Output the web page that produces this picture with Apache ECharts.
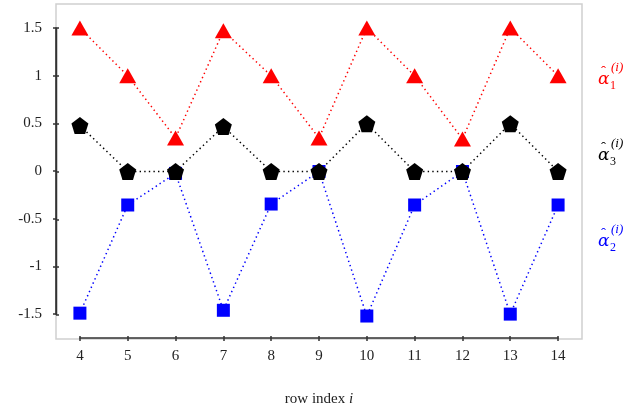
<!DOCTYPE html>
<html>
<head>
<meta charset="utf-8">
<script src="https://cdn.jsdelivr.net/npm/echarts@6/dist/echarts.min.js"></script>
<style>
  html, body { margin: 0; padding: 0; background: #fff; }
  #chart { width: 631px; height: 412px; }
</style>
</head>
<body>
<div id="chart"></div>
<script>
// row index i
const rows = [4, 5, 6, 7, 8, 9, 10, 11, 12, 13, 14];
// estimated alpha values
const alpha1 = [1.5, 1.0, 0.35, 1.47, 1.0, 0.35, 1.5, 1.0, 0.34, 1.5, 1.0];
const alpha2 = [-1.48, -0.35, -0.02, -1.45, -0.34, 0, -1.51, -0.35, 0, -1.49, -0.35];
const alpha3 = [0.48, 0, 0, 0.47, 0, 0, 0.5, 0, 0, 0.5, 0];

const serif = '"Liberation Serif", "DejaVu Serif", serif';
const pentagon = 'path://M50,0 L97.55,34.55 L79.39,90.45 L20.61,90.45 L2.45,34.55 Z';

const chart = echarts.init(document.getElementById('chart'));

const pts = (ys) => rows.map((x, k) => [x, ys[k]]);

const mkSeries = (name, ys, color, symbol, size) => ({
    name: name,
    type: 'line',
    xAxisIndex: 0,
    yAxisIndex: 0,
    data: pts(ys),
    symbol: symbol,
    symbolSize: size,
    showAllSymbol: true,
    itemStyle: { color: color, opacity: 1 },
    lineStyle: { color: color, width: 1.5, type: [1.4, 3.2] },
    emphasis: { disabled: true },
    animation: false
});

// range-frame axes (dark): grid 1 has outer ticks + labels, grid 2 inner ticks
const xFrame = (grid, inside, labels) => ({
    type: 'value', gridIndex: grid, position: 'bottom', min: 4, max: 14, interval: 1, offset: 24, z: 10,
    axisLine: { show: labels, onZero: false, lineStyle: { color: '#333', width: 1.5 } },
    axisTick: { show: true, inside: inside, length: 3, lineStyle: { color: '#333', width: 1.5 } },
    axisLabel: { show: labels, margin: 11, color: '#222', fontFamily: serif, fontSize: 15 },
    splitLine: { show: false },
    name: labels ? '{n|row index }{i|i}' : '',
    nameLocation: 'middle',
    nameGap: 54,
    nameTextStyle: {
        rich: {
            n: { fontFamily: serif, fontSize: 15, color: '#222' },
            i: { fontFamily: serif, fontSize: 15, fontStyle: 'italic', color: '#222' }
        }
    }
});
const yFrame = (grid, inside, labels) => ({
    type: 'value', gridIndex: grid, position: 'left', min: -1.5, max: 1.5, interval: 0.5, offset: 24, z: 10,
    axisLine: { show: labels, onZero: false, lineStyle: { color: '#333', width: 1.5 } },
    axisTick: { show: true, inside: inside, length: 3, lineStyle: { color: '#333', width: 1.5 } },
    axisLabel: {
        show: labels, margin: 14, color: '#222', fontFamily: serif, fontSize: 15,
        formatter: (v) => String(v)
    },
    splitLine: { show: false }
});

// right hand labels: alpha hat with sub/superscript
const mathLabel = (id, sub, color, x, y) => ({
    type: 'group',
    id: id,
    x: x, y: y,
    z: 10,
    children: [
        { type: 'text', x: 0, y: 0, style: { text: 'α', fill: color, font: 'italic 17px "DejaVu Serif"', verticalAlign: 'middle' } },
        { type: 'text', x: 3, y: -8, style: { text: '\u02C6', fill: color, font: '15px ' + serif, verticalAlign: 'middle' } },
        { type: 'text', x: 12, y: 6, style: { text: sub, fill: color, font: '12px ' + serif, verticalAlign: 'middle' } },
        { type: 'text', x: 13, y: -12, style: { text: '(i)', fill: color, font: 'italic 13px ' + serif, verticalAlign: 'middle' } }
    ]
});

const option = {
    backgroundColor: '#fff',
    animation: false,
    grid: [
        { left: 56, right: 49, top: 4, bottom: 73 },
        { left: 80, right: 73, top: 28, bottom: 97 },
        { left: 80, right: 73, top: 28, bottom: 97 }
    ],
    xAxis: [
        { type: 'value', gridIndex: 0, min: 3.5, max: 14.5, show: false },
        xFrame(1, false, true),
        xFrame(2, true, false)
    ],
    yAxis: [
        { type: 'value', gridIndex: 0, min: -1.75, max: 1.75, show: false },
        yFrame(1, false, true),
        yFrame(2, true, false)
    ],
    series: [
        mkSeries('alpha1', alpha1, '#ff0000', 'triangle', [17, 15]),
        mkSeries('alpha2', alpha2, '#0000ff', 'rect', 13),
        mkSeries('alpha3', alpha3, '#000000', pentagon, 17)
    ],
    graphic: [
        {
            type: 'rect', id: 'box', z: -10, silent: true,
            shape: { x: 56, y: 4, width: 526, height: 335 },
            style: { fill: 'none', stroke: '#d0d0d0', lineWidth: 1.5 }
        },
        {
            // dark range-frame line for the y axis (1.5 .. -1.5)
            type: 'line', id: 'yFrameLine', z: 20, silent: true,
            shape: { x1: 56.5, y1: 28, x2: 56.5, y2: 315 },
            style: { stroke: '#333', lineWidth: 1.5 }
        },
        mathLabel('lab1', '1', '#ff0000', 598, 80),
        mathLabel('lab3', '3', '#000000', 598, 156),
        mathLabel('lab2', '2', '#0000ff', 598, 242)
    ]
};

chart.setOption(option);
</script>
</body>
</html>
